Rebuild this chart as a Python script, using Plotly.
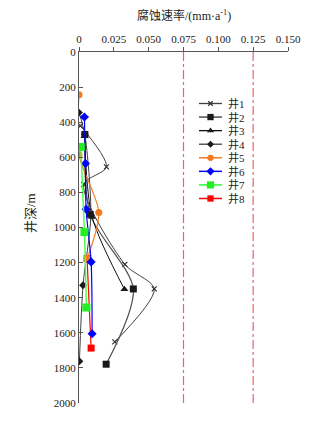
import plotly.graph_objects as go

# ---------------- data ----------------
well_names = ["井1", "井2", "井3", "井4", "井5", "井6", "井7", "井8"]

w1_rate = [0.0010, 0.0197, 0.0034, 0.0329, 0.0540, 0.0257]
w1_depth = [420, 655, 755, 1210, 1350, 1652]

w2_rate = [0.0042, 0.0080, 0.0390, 0.0195]
w2_depth = [470, 925, 1350, 1779]

w3_rate = [0.0040, 0.0094, 0.0326]
w3_depth = [480, 940, 1352]

w4_rate = [0.0000, 0.0042, 0.0085, 0.0029, 0.0003]
w4_depth = [345, 470, 930, 1329, 1762]

w5_rate = [0.0000, 0.0000, 0.0142, 0.0058]
w5_depth = [243, 586, 915, 1177]

w6_rate = [0.0039, 0.0046, 0.0051, 0.0087, 0.0094]
w6_depth = [370, 636, 896, 1196, 1605]

w7_rate = [0.0013, 0.0039, 0.0053]
w7_depth = [541, 1026, 1456]

w8_rate = [0.0058, 0.0087]
w8_depth = [1177, 1687]

limit_rates = [0.075, 0.125]

x_tickvals = [0, 0.025, 0.05, 0.075, 0.1, 0.125, 0.15]
x_ticktext = ["0", "0.025", "0.050", "0.075", "0.100", "0.125", "0.150"]
y_tickvals = list(range(0, 2001, 200))

# ---------------- styles ----------------
FONT = "Liberation Serif, Noto Sans CJK SC, serif"
PAGE_OFF = 8                     # default body margin of the html page
W, H = 324 - 2 * PAGE_OFF, 423 - 2 * PAGE_OFF
L, R, T, B = 79, 288, 52, 403    # plot area in screen pixels

styles = {
    # name: line color, line width, marker symbol, marker size, marker color
    "井1": ("#404040", 1.0, "x-thin", 5, "#303030"),
    "井2": ("#505050", 1.2, "square", 7, "#1a1a1a"),
    "井3": ("#101010", 1.0, "triangle-up", 7, "#1a1a1a"),
    "井4": ("#404040", 1.0, "diamond", 6, "#1a1a1a"),
    "井5": ("#f47a20", 1.2, "circle", 7, "#f47a20"),
    "井6": ("#0000ff", 1.2, "diamond", 7, "#0000ff"),
    "井7": ("#4cff4c", 1.5, "square", 8, "#22ee22"),
    "井8": ("#ff0000", 1.2, "square", 7, "#ff0000"),
}

data = {
    "井1": (w1_rate, w1_depth), "井2": (w2_rate, w2_depth),
    "井3": (w3_rate, w3_depth), "井4": (w4_rate, w4_depth),
    "井5": (w5_rate, w5_depth), "井6": (w6_rate, w6_depth),
    "井7": (w7_rate, w7_depth), "井8": (w8_rate, w8_depth),
}
draw_order = ["井8", "井1", "井2", "井3", "井4", "井5", "井6", "井7"]


def marker_for(name, size_scale=1.0):
    lc, lw, sym, ms, mc = styles[name]
    m = dict(symbol=sym, size=ms * size_scale, color=mc)
    if sym == "x-thin":
        m["line"] = dict(color=mc, width=1.2)
    return m


fig = go.Figure()
for name in draw_order:
    xs, ys = data[name]
    lc, lw, sym, ms, mc = styles[name]
    fig.add_trace(go.Scatter(
        x=xs, y=ys, name=name, mode="lines+markers", showlegend=False,
        line=dict(color=lc, width=lw, shape="spline", smoothing=0.8),
        marker=marker_for(name),
    ))

for r in limit_rates:
    fig.add_shape(type="line", xref="x", yref="paper", x0=r, x1=r, y0=0, y1=1,
                  line=dict(color="#f06070", width=1.2, dash="dashdot"))

# ---------------- custom compact legend (pixel-unit overlay axes) ----------------
leg_x0, leg_x1, leg_text_x = 199, 222, 226
leg_y0, leg_dy = 103.5, 13.57
annotations = []
for i, name in enumerate(well_names):
    yy = leg_y0 + i * leg_dy
    lc, lw, sym, ms, mc = styles[name]
    fig.add_trace(go.Scatter(
        x=[leg_x0, leg_x1], y=[yy, yy], mode="lines", xaxis="x2", yaxis="y2",
        line=dict(color=lc, width=lw + 0.3), showlegend=False, hoverinfo="skip"))
    fig.add_trace(go.Scatter(
        x=[(leg_x0 + leg_x1) / 2], y=[yy], mode="markers", xaxis="x2", yaxis="y2",
        marker=marker_for(name, 0.9), showlegend=False, hoverinfo="skip"))
    annotations.append(dict(text=name, xref="x2", yref="y2", x=leg_text_x, y=yy,
                            xanchor="left", yanchor="middle", showarrow=False,
                            font=dict(size=11, family=FONT, color="#222222")))

annotations += [
    dict(text="腐蚀速率/(mm·a<sup>-1</sup>)", xref="paper", yref="paper",
         x=0.5, y=1 + (T - 16) / (B - T), xanchor="center", yanchor="middle",
         showarrow=False, font=dict(size=12, family=FONT, color="#222222")),
    dict(text="井深/m", xref="paper", yref="paper", x=(30 - L) / (R - L),
         y=1 - (213 - T) / (B - T), xanchor="center", yanchor="middle",
         textangle=-90, showarrow=False, font=dict(size=13, family=FONT, color="#222222")),
]

fig.update_layout(
    width=W, height=H,
    margin=dict(l=L - PAGE_OFF, r=(W + PAGE_OFF) - R, t=T - PAGE_OFF,
                b=(H + PAGE_OFF) - B, autoexpand=False),
    paper_bgcolor="white", plot_bgcolor="white",
    font=dict(family=FONT, size=11, color="#222222"),
    showlegend=False,
    xaxis=dict(side="top", range=[0, 0.15], tickvals=x_tickvals, ticktext=x_ticktext,
               showline=True, linecolor="#555555", linewidth=1.2, ticks="outside",
               ticklen=4, tickcolor="#555555", showgrid=False, zeroline=False,
               automargin=False, tickfont=dict(size=11, family=FONT)),
    yaxis=dict(range=[2000, 0], tickvals=y_tickvals, showline=True, linecolor="#555555",
               linewidth=1.2, ticks="inside", ticklen=4, tickcolor="#555555",
               showgrid=False, zeroline=False, automargin=False,
               tickfont=dict(size=11, family=FONT)),
    xaxis2=dict(range=[L, R], overlaying="x", anchor="y2", visible=False, fixedrange=True),
    yaxis2=dict(range=[B, T], overlaying="y", anchor="x2", visible=False, fixedrange=True),
    annotations=annotations,
)

fig.write_html("out.html")
